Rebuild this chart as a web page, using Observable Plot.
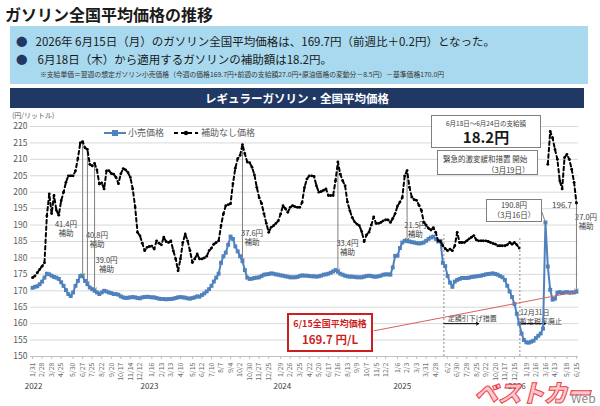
<!DOCTYPE html>
<html><head><meta charset="utf-8">
<script src="https://cdn.jsdelivr.net/npm/d3@7"></script>
<script src="https://cdn.jsdelivr.net/npm/@observablehq/plot@0.6"></script>
<style>
body{margin:0;width:600px;height:406px;overflow:hidden;background:#fff;font-family:"Noto Sans CJK JP","Noto Sans",sans-serif;}
#wrap{position:relative;width:600px;height:406px;}
.abs{position:absolute;white-space:nowrap;}
#chart{position:absolute;left:0;top:110px;}
.box{position:absolute;background:#fff;border:1px solid #7f7f7f;text-align:center;color:#404040;}
</style></head><body><div id="wrap">
<div class="abs" style="left:5px;top:2px;font-size:16px;font-weight:700;color:#1a1a1a;">ガソリン全国平均価格の推移</div>
<div class="abs" style="left:10px;top:26px;width:578px;height:58px;background:#a8d9ee;"></div>
<div class="abs" style="left:16px;top:33px;font-size:11.5px;color:#1a1a1a;"><span style="color:#1f3864;margin-right:8px;">●</span>2026年 6月15日（月）のガソリン全国平均価格は、169.7円（前週比＋0.2円）となった。</div>
<div class="abs" style="left:16px;top:51px;font-size:11.5px;color:#1a1a1a;"><span style="color:#1f3864;margin-right:10px;">●</span>6月18日（木）から適用するガソリンの補助額は18.2円。</div>
<div class="abs" style="left:40px;top:69px;font-size:6.8px;color:#333;">※支給単価＝翌週の想定ガソリン小売価格（今週の価格169.7円+前週の支給額27.0円+原油価格の変動分－8.5円）－基準価格170.0円</div>
<div class="abs" style="left:10px;top:88px;width:574px;height:20px;background:#1f3864;color:#fff;font-weight:700;font-size:11.5px;line-height:20px;text-align:center;">レギュラーガソリン・全国平均価格</div>
<div id="chart"></div>
<div class="abs" style="left:12px;top:110px;font-size:7px;color:#595959;">(円/リットル)</div>
<div class="abs" style="left:104px;top:126px;font-size:9px;color:#595959;display:flex;align-items:center;">
<svg width="22" height="10"><line x1="0" y1="5" x2="22" y2="5" stroke="#4f81bd" stroke-width="2"/><rect x="8" y="2" width="6" height="6" fill="#4f81bd"/></svg><span style="margin-left:2px;">小売価格</span>
<svg width="24" height="10" style="margin-left:10px;"><line x1="0" y1="5" x2="24" y2="5" stroke="#000" stroke-width="2" stroke-dasharray="4,3"/><circle cx="12" cy="5" r="2.2" fill="#000"/></svg><span style="margin-left:3px;">補助なし価格</span></div>
<div class="box" style="left:431px;top:115px;width:108px;height:31px;"><div style="font-size:6.5px;margin-top:2px;">6月18日～6月24日の支給額</div><div style="font-size:15px;font-weight:700;color:#1a1a1a;line-height:17px;">18.2円</div></div>
<div class="box" style="left:437px;top:150px;width:99px;height:23px;font-size:7.5px;text-align:left;"><div style="margin:2px 0 0 5px;">緊急的激変緩和措置 開始</div><div style="margin-left:49px;">（3月19日）</div></div>
<div class="box" style="left:486px;top:199px;width:54px;height:21px;font-size:7.5px;line-height:10px;"><div>190.8円</div><div>（3月16日）</div></div>
<div class="abs" style="left:552px;top:199px;font-size:8px;color:#404040;">196.7</div>
<div class="abs" style="left:287px;top:313px;width:82px;height:35px;border:2px solid #cc1f1f;background:#fff;text-align:center;color:#cc1f1f;font-weight:700;"><div style="font-size:9px;margin-top:2px;">6/15全国平均価格</div><div style="font-size:11.5px;margin-top:1px;">169.7 円/L</div></div>
<div class="abs" style="left:474px;top:374px;font-size:24px;font-weight:900;font-style:italic;color:#ffc2c6;-webkit-text-stroke:1px #e8303a;letter-spacing:-1px;opacity:0.9;">ベストカー</div>
<div class="abs" style="left:571px;top:389px;font-size:12px;color:#8a8a8a;">Web</div>
</div>
<script>
const startWeek = "2022-01-31";
const retail = [
170.9,171.2,171.4,172.0,172.8,174.0,175.2,175.0,174.6,174.2,
174.0,173.6,172.6,171.5,170.2,169.0,168.4,169.5,171.5,173.0,
174.5,174.4,173.0,172.0,171.0,170.5,170.0,169.5,169.0,169.5,
170.0,169.8,169.5,169.3,169.0,169.0,168.8,168.3,168.0,167.8,
167.9,168.0,168.1,168.0,167.8,167.7,168.0,168.1,168.2,168.1,
168.0,168.0,167.8,167.6,167.5,167.5,167.4,167.5,167.5,167.6,
167.8,168.0,168.1,168.0,167.9,167.7,167.6,167.8,168.0,168.3,
168.2,168.7,169.2,169.8,170.5,171.5,172.8,174.0,175.2,178.5,
180.5,181.6,184.0,186.5,185.8,183.5,182.0,180.5,179.0,176.3,
174.0,173.6,173.7,173.9,174.0,174.1,174.5,174.9,175.0,175.1,
175.3,175.2,175.0,174.9,174.7,174.6,174.4,174.3,174.1,174.1,
174.1,174.2,174.5,174.7,174.6,174.6,174.5,174.4,174.4,174.3,
174.4,174.6,174.9,175.0,175.2,175.5,175.9,176.3,175.8,175.2,
174.9,174.6,174.4,174.3,174.3,174.2,174.1,174.1,174.1,174.3,
174.5,174.6,174.5,174.3,174.3,174.4,174.6,174.9,175.0,175.0,
174.9,177.1,180.6,180.7,183.0,184.7,185.2,185.1,185.0,184.8,
184.7,184.5,184.4,184.5,184.7,185.2,185.8,186.2,186.5,185.8,
185.0,185.2,178.5,177.5,174.5,172.5,171.2,172.8,173.3,173.6,
173.9,173.9,173.9,174.0,174.2,174.3,174.4,174.5,174.6,174.8,
175.0,175.1,175.2,175.3,175.1,174.9,174.5,174.1,173.3,171.5,
169.8,168.1,166.0,163.0,160.0,157.0,155.0,154.3,154.2,154.5,
154.8,155.6,156.3,157.0,158.5,190.8,177.4,170.3,167.3,167.6,
169.4,169.6,169.3,169.5,169.6,169.4,169.5,169.5,169.7];
const noSubsidy = [
174.0,174.5,175.5,176.5,177.5,178.5,192.8,199.5,193.5,199.0,
194.5,193.0,197.4,200.0,203.0,205.0,205.0,205.0,206.5,210.2,
215.0,215.4,213.5,213.0,208.5,208.0,208.8,206.8,202.5,202.8,
201.0,206.5,206.6,205.7,205.5,204.5,202.6,205.6,207.2,206.8,
206.0,204.5,201.0,195.5,187.8,186.8,184.5,182.2,183.2,183.5,
183.6,182.7,185.2,184.5,184.0,186.3,185.0,184.7,185.2,182.2,
179.7,176.1,179.7,184.7,187.3,185.2,182.2,178.6,179.7,181.2,
179.7,179.7,180.0,180.5,182.2,183.0,184.2,184.7,185.2,189.8,
193.4,195.9,196.2,196.5,202.6,207.3,210.2,211.2,214.5,211.7,
209.2,209.0,207.6,205.3,201.5,198.3,196.6,193.5,190.5,187.8,
189.3,189.8,190.5,191.3,193.4,195.9,195.0,193.9,195.4,195.9,
195.6,195.4,195.4,196.9,201.5,204.0,205.0,205.0,204.8,202.0,
200.0,200.2,200.6,201.0,199.0,199.0,199.0,203.5,209.2,205.5,
203.5,202.0,197.0,194.4,192.3,191.0,190.3,189.8,188.0,185.0,
187.0,187.8,190.0,192.5,190.5,190.5,190.8,191.3,191.6,191.6,
190.8,192.0,193.5,195.8,197.0,198.4,205.0,206.6,201.5,198.5,
197.7,197.5,196.0,194.5,190.8,190.0,189.0,188.5,189.2,187.8,
185.2,185.0,183.7,182.8,182.2,182.7,182.2,183.7,187.8,184.7,
184.7,184.7,185.2,185.8,186.3,186.8,185.5,185.2,185.2,185.2,
185.2,185.0,184.7,184.4,184.2,183.7,183.7,183.7,183.7,184.0,
184.7,184.2,184.7,184.0,183.0,null,null,null,null,null,
null,null,null,null,null,null,208.5,218.5,216.5,213.0,
210.0,203.5,201.0,210.5,211.5,210.0,207.0,203.0,196.7];
const tickLabels = ["2022-01-31","2022-02-28","2022-03-28","2022-04-25","2022-05-30","2022-06-27","2022-07-25","2022-08-22","2022-09-20","2022-10-17","2022-11-14","2022-12-12","2023-01-16","2023-02-13","2023-03-13","2023-04-10","2023-05-15","2023-06-12","2023-07-10","2023-08-07","2023-09-04","2023-10-02","2023-10-30","2023-11-27","2023-12-25","2024-01-29","2024-02-26","2024-03-25","2024-04-22","2024-05-20","2024-06-17","2024-07-16","2024-08-13","2024-09-09","2024-10-07","2024-11-05","2024-12-02","2025-01-06","2025-02-03","2025-03-03","2025-03-31","2025-04-28","2025-06-02","2025-06-30","2025-07-28","2025-08-25","2025-09-22","2025-10-20","2025-11-17","2025-12-15","2026-01-19","2026-02-16","2026-03-16","2026-04-13","2026-05-18","2026-06-15"];
const yTicks = [150,155,160,165,170,175,180,185,190,195,200,205,210,215,220];
const yearLabels = [["2022","2022-02-03"],["2023","2023-01-09"],["2024","2024-02-03"],["2025","2025-01-20"],["2026","2025-12-22"]];
const subsidyWeeks = [21,23,26,88,128,157,228];
const subsidyLabels = [["41.4円\n補助","2022-05-09",188.9],["40.8円\n補助","2022-08-08",185.5],["39.0円\n補助","2022-09-05",177.9],["37.6円\n補助","2023-11-06",186.2],["33.4円\n補助","2024-08-12",183.1],["21.5円\n補助","2025-02-27",188.6],["27.0円\n補助","2026-07-13",191.0]];
const policyLines = [["2025-05-22",187],["2025-12-31",186]];
const policyArrows = [["2025-05-22","2025-09-01",160],["2025-12-31","2026-03-16",160]];
const policyTexts = [["定額引下げ措置","2025-06-02",161.6],["12月31日\n暫定税率廃止","2025-12-31",162.2]];
const redLink = [["2024-10-28",157.8,"2026-06-15",169.7],["2026-03-04",194.4,"2026-03-16",190.8]];

const D = s => new Date(s + "T00:00:00Z");
const t0 = D(startWeek);
const rows = retail.map((v, i) => ({date: new Date(t0.getTime() + i * 7 * 864e5), retail: v, noSubsidy: noSubsidy[i]}));
const subsidy = subsidyWeeks.map(i => rows[i]);
const fmt = d => `${d.getUTCMonth() + 1}/${d.getUTCDate()}`;

const chart = Plot.plot({
  width: 600, height: 296,
  marginTop: 16, marginBottom: 50, marginLeft: 30, marginRight: 22,
  style: {fontFamily: '"Noto Sans CJK JP", sans-serif', fontSize: "8px", color: "#595959", background: "transparent", overflow: "visible"},
  x: {type: "utc", domain: [D("2022-01-25"), D("2026-06-21")], label: null},
  y: {domain: [150, 220], label: null},
  marks: [
    Plot.gridY(yTicks, {stroke: "#d9d9d9", strokeOpacity: 1}),
    Plot.ruleY([150], {stroke: "#bfbfbf"}),
    Plot.axisY(yTicks, {tickSize: 0, tickPadding: 3, fontSize: 8.5, fill: "#595959"}),
    Plot.axisX(tickLabels.map(D), {tickFormat: fmt, tickRotate: -90, tickSize: 3, tickPadding: 3, fontSize: 7, stroke: "#bfbfbf", fill: "#6a6a6a"}),
    Plot.text(yearLabels, {x: d => D(d[1]), text: d => d[0], frameAnchor: "bottom", dy: 32, fontSize: 8, fill: "#404040"}),
    Plot.ruleX(policyLines, {x: d => D(d[0]), y1: 150, y2: d => d[1], stroke: "#8c8c8c", strokeDasharray: "2,2"}),
    Plot.text(subsidyLabels, {x: d => D(d[1]), y: d => d[2], text: d => d[0], fontSize: 7.5, lineHeight: 1.15, fill: "#404040"}),
    Plot.text(policyTexts, {x: d => D(d[1]), y: d => d[2], text: d => d[0], textAnchor: "start", fontSize: 7, lineHeight: 1.3, fill: "#404040"}),
    Plot.arrow(policyArrows, {x1: d => D(d[0]), x2: d => D(d[1]), y: d => d[2], stroke: "#000", strokeWidth: 1, headLength: 4}),
    Plot.arrow(subsidy, {x: "date", y1: "noSubsidy", y2: "retail", stroke: "#7f7f7f", strokeWidth: 1, headLength: 5}),
    Plot.line(rows, {x: "date", y: "retail", stroke: "#4f81bd", strokeWidth: 2}),
    Plot.dot(rows, {x: "date", y: "retail", symbol: "square", r: 2.2, fill: "#4f81bd"}),
    Plot.line(rows, {x: "date", y: "noSubsidy", stroke: "#000", strokeWidth: 2, strokeDasharray: "3.5,3"}),
    Plot.dot(rows.filter(d => d.noSubsidy != null), {x: "date", y: "noSubsidy", r: 1.4, fill: "#000"}),
    Plot.link(redLink, {x1: d => D(d[0]), y1: d => d[1], x2: d => D(d[2]), y2: d => d[3], stroke: (d, i) => i === 0 ? "#d9605a" : "#7f7f7f", strokeWidth: 1})
  ]
});
document.getElementById("chart").appendChild(chart);
</script>
</body></html>
